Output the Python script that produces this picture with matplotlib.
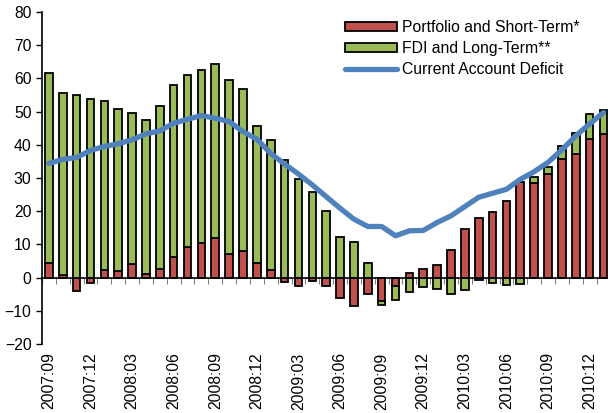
import matplotlib
matplotlib.use("Agg")
import matplotlib.pyplot as plt
import numpy as np

plt.rcParams["font.family"] = ["Liberation Sans", "DejaVu Sans"]

# Monthly data, 2007:09 .. 2011:01
months = [f"{y}:{m:02d}" for y in range(2007, 2012) for m in range(1, 13)][8:49]

portfolio = [4.5, 0.8, -4.0, -1.5, 2.3, 2.1, 4.0, 1.1, 2.5, 6.3, 9.3, 10.4,
             11.9, 7.1, 8.1, 4.5, 2.3, -1.2, -2.5, -1.0, -2.4, -6.1, -8.5,
             -4.8, -7.0, -2.6, 1.3, 2.7, 3.7, 8.2, 14.5, 18.1, 19.8, 23.1,
             28.7, 28.6, 31.2, 35.6, 37.2, 41.7, 43.3]
fdi = [57.1, 54.7, 55.0, 53.7, 50.9, 48.6, 45.5, 46.4, 49.2, 51.7, 51.8, 52.2,
       52.5, 52.5, 48.7, 41.2, 39.2, 35.5, 29.6, 25.7, 20.2, 12.2, 10.7,
       4.5, -1.3, -4.0, -4.3, -2.7, -3.3, -4.8, -3.7, -0.8, -1.5, -2.3,
       -1.8, 1.6, 2.2, 4.1, 6.5, 7.6, 7.2]
deficit = [34.4, 35.6, 36.2, 38.3, 39.5, 40.3, 41.5, 43.3, 44.2, 46.5, 47.7,
           48.8, 48.0, 47.0, 44.0, 41.7, 37.4, 34.2, 31.2, 27.9, 24.4, 20.9,
           17.6, 15.4, 15.4, 12.6, 14.1, 14.2, 16.6, 18.6, 21.4, 24.2, 25.4,
           26.6, 29.6, 31.9, 34.7, 38.5, 42.7, 46.3, 49.7]

red = "#C0504D"
green = "#9BBB59"
blue = "#4F81BD"

x = np.arange(len(months))
p = np.array(portfolio)
f = np.array(fdi)

# Excel-style stacking: positives on positives, negatives on negatives
pos_base = np.where(p > 0, p, 0)
neg_base = np.where(p < 0, p, 0)
fdi_bottom = np.where(f >= 0, pos_base, neg_base)

fig = plt.figure(figsize=(6.08, 4.13), dpi=100)
ax = fig.add_axes([0.069, 0.167, 0.935, 0.804])

bw = 0.55
b1 = ax.bar(x, p, width=bw, color=red, edgecolor="black", linewidth=1.3,
            label="Portfolio and Short-Term*", zorder=2)
b2 = ax.bar(x, f, bottom=fdi_bottom, width=bw, color=green, edgecolor="black",
            linewidth=1.3, label="FDI and Long-Term**", zorder=2)
ln, = ax.plot(x, deficit, color=blue, linewidth=3.8,
              label="Current Account Deficit", zorder=3, solid_capstyle="round")

ax.set_xlim(-0.5, len(months) - 0.5)
ax.set_ylim(-20, 80)
ax.set_yticks(np.arange(-20, 81, 10))
ax.tick_params(axis="y", labelsize=11.3, length=4, direction="out", width=1)

for s in ["top", "right"]:
    ax.spines[s].set_visible(False)
ax.spines["left"].set_linewidth(1.2)
ax.spines["bottom"].set_position(("data", 0))
ax.spines["bottom"].set_linewidth(1.2)
ax.spines["bottom"].set_zorder(4)

# small tick marks between months along the zero line
ax.set_xticks(np.arange(-0.5, len(months), 1))
ax.set_xticklabels([])
ax.tick_params(axis="x", length=4, color="#808080", direction="out")

# date labels at the bottom, every 3 months
sec = ax.secondary_xaxis(0)
sec.set_xticks(x[::3])
sec.set_xticklabels(months[::3], rotation=90, fontsize=11.3)
sec.tick_params(length=0, pad=6)
sec.spines["bottom"].set_visible(False)

ax.legend(handles=[b1, b2, ln], loc="upper left",
          bbox_to_anchor=(0.568, 0.952), bbox_transform=fig.transFigure,
          frameon=False, fontsize=11.3, handlelength=3.3, handleheight=0.55,
          labelspacing=0.4, handletextpad=0.3, borderpad=0, borderaxespad=0)

fig.savefig("out.png", dpi=100)
